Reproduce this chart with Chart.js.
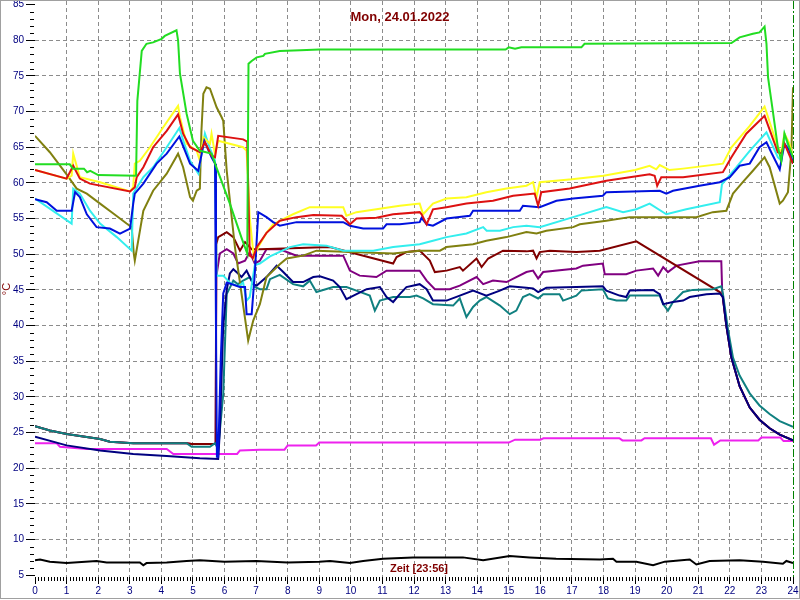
<!DOCTYPE html>
<html>
<head>
<meta charset="utf-8">
<script src="https://cdn.jsdelivr.net/npm/chart.js@4"></script>
<style>
  html, body { margin: 0; padding: 0; background: #fff; }
  canvas { display: block; }
</style>
</head>
<body>
<canvas id="chart" width="800" height="600"></canvas>
<script>
// ===== Temperaturverlauf 24.01.2022 =====

// --- Achsen ---
const hourTicks = [0,1,2,3,4,5,6,7,8,9,10,11,12,13,14,15,16,17,18,19,20,21,22,23,24];
const tempTicks = [5,10,15,20,25,30,35,40,45,50,55,60,65,70,75,80,85];
const titleText = "Mon, 24.01.2022";
const timeText = "Zeit [23:56]";
const unitText = "°C";

// --- Messreihen [Stunde, °C] ---
const gruen = [[0,62.6],[1.1,62.6],[1.2,62.0],[1.55,62.0],[1.65,61.5],[1.75,61.7],[2.0,61.1],[3.2,61.0],[3.24,71.5],[3.38,78.5],[3.53,79.5],[3.74,79.7],[4.01,80.2],[4.11,80.6],[4.48,81.4],[4.53,80.0],[4.59,75.3],[4.8,69.7],[5.0,65.9],[5.22,64.5],[5.59,64.1],[5.75,62.1],[6.17,57.1],[6.54,52.3],[6.72,50.1],[6.76,76.7],[6.86,77.1],[7.02,77.6],[7.23,77.8],[7.28,78.1],[7.75,78.5],[8.4,78.6],[9.0,78.7],[14.9,78.7],[15.0,79.0],[15.2,78.8],[15.4,79.0],[17.3,79.0],[17.4,79.5],[22.05,79.6],[22.31,80.4],[22.73,80.9],[22.94,81.1],[23.1,81.9],[23.16,79.5],[23.21,74.8],[23.36,70.1],[23.52,65.0],[23.63,63.1],[23.73,66.9],[23.84,65.5],[24,63.6]];
const rot = [[0,61.8],[1.0,60.6],[1.21,62.4],[1.42,60.6],[1.74,59.9],[3.01,58.8],[3.16,59.4],[3.22,60.8],[3.43,62.2],[3.74,65.0],[4.17,67.3],[4.53,69.6],[4.69,66.9],[4.91,65.0],[5.22,64.3],[5.38,65.7],[5.59,63.8],[5.7,63.6],[5.8,66.6],[6.59,66.1],[6.72,65.8],[6.8,49.8],[6.9,49.5],[7.02,51.0],[7.33,53.0],[7.75,54.7],[8.28,55.2],[8.81,55.5],[9.71,55.4],[9.97,54.2],[10.18,55.0],[10.81,55.1],[11.34,55.6],[12.18,55.9],[12.24,55.6],[12.4,54.2],[12.6,56.3],[13.03,56.6],[13.66,57.1],[14.5,57.5],[15.14,58.2],[15.82,58.5],[15.93,56.8],[16.03,58.7],[16.93,59.2],[18.09,60.3],[19.46,61.2],[19.62,61.0],[19.7,59.6],[19.83,60.8],[20.52,60.8],[21.78,61.5],[22.05,63.6],[22.52,66.9],[23.1,69.4],[23.52,64.3],[23.63,64.1],[23.73,65.5],[24,62.7]];
const blau = [[0,57.7],[0.37,57.3],[0.69,56.1],[1.16,56.1],[1.27,58.7],[1.42,58.0],[1.64,55.6],[1.95,53.8],[2.37,53.6],[2.69,52.9],[3.01,53.6],[3.11,57.1],[3.16,58.5],[3.43,59.9],[3.85,62.7],[4.17,64.1],[4.57,66.5],[4.91,62.7],[5.17,61.7],[5.36,65.9],[5.59,63.6],[5.7,62.7],[5.73,40.0],[5.76,21.6],[5.8,21.6],[5.88,35.0],[5.96,44.5],[6.07,46.0],[6.17,45.9],[6.49,45.4],[6.65,45.4],[6.7,41.6],[6.86,41.6],[6.96,47.3],[7.07,55.9],[7.33,55.2],[7.54,54.5],[7.75,54.0],[8.28,54.5],[9.76,54.5],[9.97,54.0],[10.39,53.6],[11.02,53.6],[11.13,54.2],[11.55,54.2],[12.18,54.5],[12.24,55.1],[12.4,54.2],[12.6,54.0],[13.03,55.0],[13.77,55.4],[13.87,56.1],[15.35,56.1],[15.45,56.8],[15.98,56.6],[16.51,57.5],[17.04,57.8],[17.98,58.2],[18.09,58.7],[19.78,58.9],[19.99,58.5],[20.2,58.9],[21.04,59.6],[21.68,60.1],[22.0,60.8],[22.31,62.4],[22.63,62.7],[22.94,65.0],[23.16,65.7],[23.31,64.3],[23.58,61.9],[23.73,65.5],[23.89,64.5],[24,62.7]];
const gelb = [[0,61.8],[1.0,60.6],[1.16,61.0],[1.21,64.1],[1.42,60.8],[2.06,60.1],[3.01,58.8],[3.11,59.4],[3.16,62.7],[3.32,63.1],[3.64,65.0],[4.06,67.8],[4.53,70.8],[4.59,69.2],[4.8,65.5],[5.12,64.5],[5.22,63.1],[5.33,66.4],[5.54,65.5],[5.59,66.9],[5.7,64.0],[5.8,65.9],[6.59,65.0],[6.7,64.5],[6.8,55.0],[6.93,49.5],[7.07,51.0],[7.33,53.0],[7.54,54.2],[8.17,55.6],[8.7,56.6],[9.76,56.6],[9.86,55.4],[10.18,55.9],[10.81,56.3],[11.55,56.8],[12.18,57.1],[12.29,55.6],[12.6,57.1],[13.03,57.8],[13.66,58.0],[14.29,58.7],[14.93,59.2],[15.56,59.6],[15.77,60.1],[15.88,58.0],[15.98,60.1],[17.0,60.5],[18.0,61.0],[19.0,61.8],[19.46,62.4],[19.67,61.9],[19.78,62.5],[20.09,61.8],[20.52,62.0],[21.78,62.7],[22.05,65.0],[22.63,68.0],[23.1,70.7],[23.16,69.9],[23.52,65.0],[23.63,64.3],[23.73,66.9],[23.89,65.5],[24,63.6]];
const cyan = [[0,57.8],[1.16,54.3],[1.21,59.2],[1.42,58.5],[1.74,56.1],[2.06,54.3],[2.59,52.4],[3.06,50.5],[3.11,58.5],[3.16,58.9],[3.43,60.8],[3.74,62.2],[4.17,65.0],[4.57,67.7],[4.69,66.0],[4.91,63.1],[5.17,61.3],[5.38,66.9],[5.54,64.8],[5.7,63.1],[5.75,47.0],[5.96,47.0],[6.17,46.0],[6.43,45.5],[6.59,46.0],[6.7,43.5],[6.8,44.0],[6.96,48.5],[7.12,48.7],[7.44,49.7],[8.07,51.0],[8.49,51.4],[9.23,51.2],[9.76,50.5],[10.71,50.5],[11.34,51.0],[12.18,51.4],[12.6,51.9],[13.03,52.4],[13.66,52.9],[14.19,53.8],[14.3,53.3],[14.72,53.3],[15.14,53.8],[15.56,54.0],[15.98,53.8],[17.04,55.2],[18.09,56.6],[18.62,55.9],[19.04,56.3],[19.46,57.1],[19.99,55.6],[20.62,56.3],[21.68,57.3],[21.75,59.8],[22.21,62.2],[22.63,64.5],[23.16,67.1],[23.52,63.6],[23.63,63.1],[23.73,66.9],[24,63.1]];
const oliv = [[0,66.6],[0.47,64.3],[1.0,61.2],[1.32,59.2],[1.64,58.5],[2.06,57.1],[2.48,55.7],[2.9,54.3],[3.06,53.8],[3.13,50.0],[3.16,49.1],[3.43,56.1],[3.74,58.9],[4.17,61.3],[4.53,64.1],[4.69,62.2],[4.91,58.0],[5.0,57.5],[5.12,58.9],[5.22,59.2],[5.27,67.3],[5.33,72.5],[5.43,73.4],[5.54,73.2],[5.75,70.6],[5.91,69.2],[5.96,68.7],[6.07,61.7],[6.33,51.0],[6.75,37.9],[6.91,40.7],[7.12,43.0],[7.33,46.8],[7.75,48.6],[7.97,49.4],[8.49,49.8],[8.91,50.5],[11.34,50.1],[12.18,50.5],[12.82,50.5],[13.03,51.0],[13.87,51.4],[14.29,51.9],[14.93,52.4],[15.56,53.1],[15.88,52.9],[16.19,53.3],[17.04,53.8],[17.25,54.2],[18.09,54.7],[18.83,55.2],[20.94,55.2],[21.46,55.9],[21.89,56.1],[22.1,58.5],[22.41,60.1],[22.73,61.7],[23.1,63.6],[23.26,62.2],[23.58,57.1],[23.68,57.5],[23.84,58.7],[23.95,64.5],[24,73.4]];
const navy = [[0,24.4],[1.0,23.2],[2.06,22.5],[3.11,22.0],[4.17,21.7],[5.22,21.4],[5.8,21.3],[5.85,25.0],[5.96,40.0],[6.07,45.0],[6.17,47.3],[6.28,47.9],[6.43,47.3],[6.54,46.8],[6.7,47.7],[6.91,45.8],[7.02,45.6],[7.33,46.8],[7.65,48.4],[7.86,47.5],[8.17,46.1],[8.49,46.1],[8.81,46.8],[9.02,46.9],[9.44,46.3],[9.65,45.4],[9.86,43.7],[10.18,44.4],[10.5,45.1],[10.92,45.4],[11.13,44.0],[11.34,43.3],[11.55,44.4],[11.76,45.4],[12.18,45.8],[12.4,45.1],[12.6,43.5],[13.03,43.5],[13.45,44.2],[13.87,44.9],[14.29,44.2],[14.72,44.9],[15.03,45.5],[15.56,45.3],[15.77,45.2],[15.93,44.7],[16.19,45.3],[17.14,45.4],[17.98,45.5],[18.09,44.9],[18.51,44.2],[18.72,44.0],[18.83,44.9],[19.57,45.0],[19.78,44.4],[19.89,43.0],[20.2,43.3],[20.52,43.5],[20.73,44.0],[21.26,44.4],[21.68,44.5],[21.78,44.0],[21.89,40.0],[22.05,35.5],[22.31,31.5],[22.63,28.5],[22.94,26.8],[23.26,25.6],[23.58,24.7],[24,23.9]];
const petrol = [[0,25.9],[0.47,25.3],[1.0,24.8],[2.06,24.1],[2.37,23.7],[3.11,23.5],[4.8,23.5],[4.96,23.0],[5.54,23.0],[5.7,23.5],[5.8,22.7],[5.96,30.4],[6.07,44.4],[6.28,46.3],[6.43,45.8],[6.59,46.3],[6.8,46.8],[6.96,45.4],[7.12,45.1],[7.33,45.1],[7.44,46.5],[7.75,47.1],[8.17,45.8],[8.49,45.5],[8.7,46.3],[8.91,44.7],[9.44,45.4],[9.86,45.4],[10.18,44.9],[10.6,44.2],[10.76,42.1],[10.92,43.5],[11.34,44.0],[11.87,44.0],[12.08,44.2],[12.29,43.8],[12.6,43.0],[13.24,42.8],[13.45,43.8],[13.66,41.2],[13.87,42.6],[14.08,43.5],[14.29,44.0],[14.72,42.8],[15.03,41.6],[15.24,42.1],[15.45,44.0],[15.66,44.4],[15.93,43.8],[16.09,44.4],[16.61,44.4],[16.72,43.5],[17.14,44.2],[17.3,44.9],[17.98,45.1],[18.14,43.8],[18.41,43.5],[18.72,43.5],[18.83,44.2],[19.78,44.2],[19.89,43.0],[20.04,42.1],[20.2,43.3],[20.52,44.7],[20.83,45.0],[21.46,45.1],[21.73,45.5],[21.78,44.5],[21.94,39.5],[22.1,35.5],[22.31,33.0],[22.63,30.5],[22.94,28.8],[23.26,27.6],[23.58,26.6],[24,25.8]];
const braun = [[0,25.9],[0.47,25.3],[1.0,24.8],[2.06,24.1],[2.37,23.7],[3.11,23.5],[4.8,23.5],[4.96,23.4],[5.72,23.4],[5.74,51.4],[5.8,52.4],[6.07,53.1],[6.28,52.4],[6.49,50.5],[6.65,51.7],[6.86,50.7],[7.12,50.7],[9.34,51.0],[11.34,48.7],[11.45,49.6],[11.76,50.3],[12.18,50.5],[12.5,49.1],[12.66,47.5],[13.03,47.7],[13.45,48.2],[13.55,47.7],[13.98,49.4],[14.14,48.2],[14.35,49.4],[14.82,50.5],[15.56,50.4],[15.77,50.5],[15.88,49.4],[15.98,50.3],[16.3,50.5],[17.14,50.3],[17.88,50.5],[19.04,51.8],[21.68,44.7],[21.78,44.0],[21.89,40.0],[22.05,35.5],[22.31,31.5],[22.63,28.5],[22.94,26.8],[23.26,25.6],[23.58,24.7],[24,23.9]];
const lila = [[0,25.9],[0.47,25.3],[1.0,24.8],[2.06,24.1],[2.37,23.7],[3.11,23.5],[4.8,23.5],[4.96,23.4],[5.72,23.4],[5.74,46.8],[5.85,50.1],[6.07,50.7],[6.28,50.1],[6.43,48.7],[6.65,49.1],[6.8,50.3],[6.96,48.7],[7.12,49.1],[7.33,50.7],[7.75,50.7],[8.28,49.8],[8.81,49.8],[9.76,49.8],[9.97,47.7],[10.28,47.0],[10.81,46.8],[11.13,47.7],[12.18,47.7],[12.4,46.3],[12.66,45.1],[13.13,45.1],[13.45,45.6],[13.98,46.8],[14.19,45.8],[14.5,46.3],[14.93,46.1],[15.56,47.5],[15.77,47.7],[15.93,46.6],[16.09,47.5],[17.14,48.0],[17.35,48.4],[17.98,48.7],[18.04,47.2],[18.72,47.2],[19.04,47.7],[19.57,48.0],[19.73,47.0],[19.89,48.2],[20.04,47.5],[20.31,48.4],[21.04,49.0],[21.73,49.0],[21.76,44.5],[21.89,40.0],[22.05,35.5],[22.31,31.5],[22.63,28.5],[22.94,26.8],[23.26,25.6],[23.58,24.7],[24,23.9]];
const magenta = [[0,23.5],[0.69,23.5],[0.79,23.0],[1.64,22.7],[4.17,22.7],[4.38,22.0],[6.4,22.0],[6.49,22.5],[7.12,22.6],[7.9,22.6],[8.0,23.2],[8.9,23.2],[9.0,23.6],[15.0,23.6],[15.2,24.0],[16.0,24.0],[16.1,24.2],[18.5,24.2],[18.6,23.9],[19.2,23.9],[19.3,24.2],[21.4,24.2],[21.5,23.3],[21.7,23.9],[22.9,23.9],[23.0,24.3],[23.6,24.3],[23.7,23.8],[24,23.8]];
const schwarz = [[0,7.1],[0.16,7.2],[0.47,6.9],[1.0,6.7],[1.95,7.0],[2.27,6.8],[3.32,6.8],[3.43,6.4],[3.53,6.7],[4.17,6.8],[4.8,7.0],[5.22,7.1],[6.0,6.9],[7.0,7.0],[8.0,6.8],[9.0,6.9],[9.34,7.0],[9.97,6.7],[10.39,7.0],[11.02,7.3],[11.97,7.5],[13.55,7.5],[14.19,7.1],[15.03,7.7],[15.66,7.5],[16.5,7.3],[17.88,7.2],[18.3,7.3],[18.41,6.9],[19.04,6.9],[19.57,6.4],[19.94,6.9],[20.73,7.2],[20.94,6.5],[21.36,7.0],[22.31,7.1],[23.05,6.9],[23.68,6.6],[23.79,7.0],[24,6.7]];

// --- Reihenfolge: erste Reihe liegt oben ---
const series = [
  { data: gruen, color: "#22dd22" },
  { data: rot, color: "#dd1111" },
  { data: blau, color: "#0011dd" },
  { data: gelb, color: "#ffff22" },
  { data: cyan, color: "#33eeee" },
  { data: oliv, color: "#808010" },
  { data: navy, color: "#000080" },
  { data: petrol, color: "#108080" },
  { data: braun, color: "#800000" },
  { data: lila, color: "#800080" },
  { data: magenta, color: "#ee22ee" },
  { data: schwarz, color: "#000000" }
];

const FONT = "'Liberation Sans', Arial, sans-serif";

// --- Extras: Nebenstriche, Zeitmarke, Texte, Rahmen ---
const decor = {
  id: "decor",
  afterDraw(chart) {
    const { ctx, chartArea: a, scales: { x, y } } = chart;
    ctx.save();
    ctx.strokeStyle = "#000";
    ctx.lineWidth = 1;
    ctx.beginPath();
    for (let v = 5; v <= 85; v++) {
      if (v % 5 === 0) continue;
      const py = Math.round(y.getPixelForValue(v)) + 0.5;
      ctx.moveTo(a.left - 5, py); ctx.lineTo(a.left - 1, py);
    }
    for (let i = 0; i <= 240; i++) {
      if (i % 10 === 0) continue;
      const px = Math.round(x.getPixelForValue(i / 10)) + 0.5;
      ctx.moveTo(px, a.bottom); ctx.lineTo(px, a.bottom + 4);
    }
    ctx.stroke();

    // Zeitmarke
    const mx = Math.round(x.getPixelForValue(24)) + 0.5;
    ctx.strokeStyle = "#008000";
    ctx.setLineDash([8, 2, 2, 2]);
    ctx.beginPath();
    ctx.moveTo(mx, a.top); ctx.lineTo(mx, a.bottom);
    ctx.stroke();
    ctx.setLineDash([]);

    // Texte
    ctx.fillStyle = "#800000";
    ctx.textAlign = "center";
    ctx.textBaseline = "middle";
    ctx.font = "bold 13px " + FONT;
    ctx.fillText(titleText, 400, 17);
    ctx.font = "bold 11px " + FONT;
    ctx.fillText(timeText, 419, 569);

    // Rahmen
    ctx.strokeStyle = "#a0a0a0";
    ctx.strokeRect(0.5, 0.5, chart.width - 1, chart.height - 2);
    ctx.restore();
  }
};

new Chart(document.getElementById("chart"), {
  type: "line",
  data: {
    datasets: series.map(s => ({
      data: s.data.map(([h, t]) => ({ x: h, y: t })),
      borderColor: s.color,
      borderWidth: 2,
      pointRadius: 0,
      tension: 0,
      fill: false
    }))
  },
  options: {
    responsive: false,
    animation: false,
    layout: { padding: { top: 1, right: 7, left: 0, bottom: 0 } },
    plugins: { legend: { display: false }, tooltip: { enabled: false } },
    scales: {
      x: {
        type: "linear",
        min: 0,
        max: 24,
        afterBuildTicks: s => { s.ticks = hourTicks.map(v => ({ value: v })); },
        afterFit: s => { s.height = 23; s.paddingLeft = 0; s.paddingRight = 0; },
        grid: {
          color: c => (c.tick && (c.tick.value === 0 || c.tick.value === 24)) ? "rgba(0,0,0,0)" : "#8c8c8c",
          tickColor: "#000",
          tickLength: 7
        },
        border: { display: false, dash: [4, 3] },
        ticks: { color: "#000080", font: { size: 10, family: FONT }, padding: 1, maxRotation: 0, autoSkip: false }
      },
      y: {
        min: 4.75,
        max: 85.5,
        afterBuildTicks: s => { s.ticks = tempTicks.map(v => ({ value: v })); },
        afterFit: s => { s.width = 35; s.paddingTop = 0; s.paddingBottom = 0; },
        grid: {
          color: c => (c.tick && (c.tick.value === 5 || c.tick.value === 85)) ? "rgba(0,0,0,0)" : "#8c8c8c",
          tickColor: "#000",
          tickLength: 9
        },
        border: { display: false, dash: [4, 3] },
        ticks: { color: "#000080", font: { size: 10, family: FONT }, padding: 2 },
        title: { display: true, text: unitText, color: "#800000", font: { size: 11, family: FONT }, padding: 0 }
      }
    }
  },
  plugins: [decor]
});
</script>
</body>
</html>
